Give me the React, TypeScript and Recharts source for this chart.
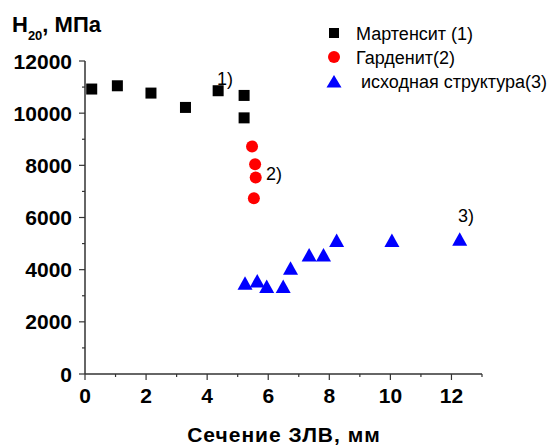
import React from "react";
import { ScatterChart, Scatter, XAxis, YAxis } from "recharts";

// Hardness H20 vs. section of the hardened zone — three structure groups.
const martX = [0.22, 1.06, 2.16, 3.29, 4.36, 5.21, 5.21];
const martY = [10925, 11050, 10770, 10220, 10860, 10680, 9820];

const hardX = [5.47, 5.57, 5.59, 5.53];
const hardY = [8720, 8040, 7530, 6740];

const initX = [5.24, 5.64, 5.95, 6.49, 6.73, 7.34, 7.81, 8.24, 10.05, 12.27];
const initY = [3480, 3570, 3350, 3350, 4055, 4565, 4565, 5115, 5115, 5170];

const xTicks = [0, 1, 2, 3, 4, 5, 6, 7, 8, 9, 10, 11, 12, 13];
const yTicks = [0, 1000, 2000, 3000, 4000, 5000, 6000, 7000, 8000, 9000, 10000, 11000, 12000];

const legendLabels = ["Мартенсит (1)", "Гарденит(2)", " исходная структура(3)"];

const FONT = '"Liberation Sans", Arial, sans-serif';
const AXIS = "#333";

const toPoints = (xs: number[], ys: number[]) => xs.map((x, i) => ({ x, y: ys[i] }));

const Square = (p: any) => <rect x={p.cx - 5.5} y={p.cy - 5.5} width={11} height={11} fill="#000" />;
const Dot = (p: any) => <circle cx={p.cx} cy={p.cy} r={6} fill="#ff0000" />;
const Tri = (p: any) => (
  <polygon points={`${p.cx},${p.cy - 7} ${p.cx - 7.5},${p.cy + 6.5} ${p.cx + 7.5},${p.cy + 6.5}`} fill="#0000ff" />
);

function XTick({ x, y, payload }: any) {
  const major = payload.value % 2 === 0;
  return (
    <g>
      <line x1={x} x2={x} y1={y} y2={y + (major ? 6 : 3)} stroke={AXIS} strokeWidth={1.2} />
      {major && (
        <text x={x} y={y + 29} textAnchor="middle" fontFamily={FONT} fontWeight="bold" fontSize={21} fill="#000">
          {payload.value}
        </text>
      )}
    </g>
  );
}

function YTick({ x, y, payload }: any) {
  const major = payload.value % 2000 === 0;
  return (
    <g>
      <line x1={x} x2={x - (major ? 6 : 3)} y1={y} y2={y} stroke={AXIS} strokeWidth={1.2} />
      {major && (
        <text x={x - 13} y={y + 7.5} textAnchor="end" fontFamily={FONT} fontWeight="bold" fontSize={21} fill="#000">
          {payload.value}
        </text>
      )}
    </g>
  );
}

export default function App() {
  return (
    <div style={{ position: "absolute", left: 0, top: 0, width: 553, height: 447, background: "#fff" }}>
      <ScatterChart width={553} height={447} margin={{ top: 61, right: 71, left: 0, bottom: 0 }}>
        <XAxis
          type="number"
          dataKey="x"
          domain={[0, 13]}
          ticks={xTicks}
          interval={0}
          height={73}
          tickSize={0}
          tickMargin={0}
          axisLine={{ stroke: AXIS, strokeWidth: 1.5 }}
          tick={<XTick />}
        />
        <YAxis
          type="number"
          dataKey="y"
          domain={[0, 12000]}
          ticks={yTicks}
          interval={0}
          width={85}
          tickSize={0}
          tickMargin={0}
          axisLine={{ stroke: AXIS, strokeWidth: 1.5 }}
          tick={<YTick />}
        />
        <Scatter data={toPoints(martX, martY)} shape={Square} isAnimationActive={false} />
        <Scatter data={toPoints(hardX, hardY)} shape={Dot} isAnimationActive={false} />
        <Scatter data={toPoints(initX, initY)} shape={Tri} isAnimationActive={false} />
      </ScatterChart>
      <svg width={553} height={447} style={{ position: "absolute", left: 0, top: 0, pointerEvents: "none" }}>
        <text x={12} y={32} fontFamily={FONT} fontWeight="bold" fontSize={22} fill="#000">
          H<tspan fontSize={13} dy={8}>20</tspan>
          <tspan dy={-8}>, МПа</tspan>
        </text>
        <text x={284} y={442} textAnchor="middle" fontFamily={FONT} fontWeight="bold" fontSize={21} letterSpacing={1} fill="#000">
          Сечение ЗЛВ, мм
        </text>
        <text x={217} y={85} fontFamily={FONT} fontSize={18} fill="#000">1)</text>
        <text x={266} y={180} fontFamily={FONT} fontSize={18} fill="#000">2)</text>
        <text x={458} y={222} fontFamily={FONT} fontSize={18} fill="#000">3)</text>
        <rect x={329} y={28} width={10} height={10} fill="#000" />
        <circle cx={334} cy={57} r={6} fill="#ff0000" />
        <polygon points="334,75 326.5,87.5 341.5,87.5" fill="#0000ff" />
        {legendLabels.map((t, i) => (
          <text key={i} x={356} y={40 + i * 24} fontFamily={FONT} fontSize={18} fill="#000" style={{ whiteSpace: "pre" }}>
            {t}
          </text>
        ))}
      </svg>
    </div>
  );
}
